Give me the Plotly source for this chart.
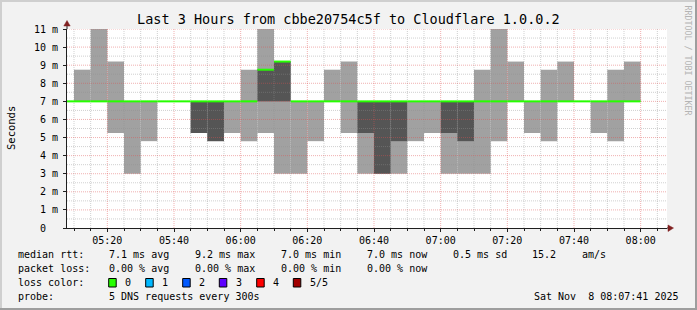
import plotly.graph_objects as go
import pandas as pd
import numpy as np

# ---------------- data ----------------
bucket_start = [
    "05:05", "05:10", "05:15", "05:20", "05:25", "05:30", "05:35", "05:40", "05:45", "05:50",
    "05:55", "06:00", "06:05", "06:10", "06:15", "06:20", "06:25", "06:30", "06:35", "06:40",
    "06:45", "06:50", "06:55", "07:00", "07:05", "07:10", "07:15", "07:20", "07:25", "07:30",
    "07:35", "07:40", "07:45", "07:50", "07:55",
]
# outer smoke band (ms)
smoke_outer_lo = [7.0, 7.0, 7.0, 5.25, 3.0, 4.8, 7.0, 7.0, 5.25, 4.8,
                  5.25, 4.8, 5.25, 3.0, 3.0, 4.8, 7.0, 5.25, 3.0, 3.0,
                  3.0, 4.8, 5.25, 3.0, 3.0, 3.0, 4.8, 7.0, 5.25, 4.8,
                  7.0, 7.0, 5.25, 4.8, 7.0]
smoke_outer_hi = [7.0, 8.75, 11.0, 9.2, 7.0, 7.0, 7.0, 7.0, 7.0, 7.0,
                  7.0, 8.75, 11.0, 9.2, 7.0, 7.0, 8.75, 9.2, 7.0, 7.0,
                  7.0, 7.0, 7.0, 7.0, 7.0, 8.75, 11.0, 9.2, 7.0, 8.75,
                  9.2, 7.0, 7.0, 8.75, 9.2]
# inner smoke band (ms)
smoke_inner_lo = [7.0, 7.0, 7.0, 7.0, 7.0, 7.0, 7.0, 7.0, 5.25, 4.8,
                  7.0, 7.0, 7.0, 7.0, 7.0, 7.0, 7.0, 7.0, 5.25, 3.0,
                  4.8, 7.0, 7.0, 5.25, 4.8, 7.0, 7.0, 7.0, 7.0, 7.0,
                  7.0, 7.0, 7.0, 7.0, 7.0]
smoke_inner_hi = [7.0, 7.0, 7.0, 7.0, 7.0, 7.0, 7.0, 7.0, 7.0, 7.0,
                  7.0, 7.0, 8.75, 9.2, 7.0, 7.0, 7.0, 7.0, 7.0, 7.0,
                  7.0, 7.0, 7.0, 7.0, 7.0, 7.0, 7.0, 7.0, 7.0, 7.0,
                  7.0, 7.0, 7.0, 7.0, 7.0]
median_rtt = [7.0, 7.0, 7.0, 7.0, 7.0, 7.0, 7.0, 7.0, 7.0, 7.0,
              7.0, 7.0, 8.75, 9.2, 7.0, 7.0, 7.0, 7.0, 7.0, 7.0,
              7.0, 7.0, 7.0, 7.0, 7.0, 7.0, 7.0, 7.0, 7.0, 7.0,
              7.0, 7.0, 7.0, 7.0, 7.0]

y_tick_vals = [0, 1, 2, 3, 4, 5, 6, 7, 8, 9, 10, 11]
y_tick_text = ["0\u00a0\u00a0", "1 m", "2 m", "3 m", "4 m", "5 m", "6 m", "7 m", "8 m", "9 m", "10 m", "11 m"]

loss_labels = ["0", "1", "2", "3", "4", "5/5"]
loss_colors = ["#26ff00", "#00b8ff", "#0059ff", "#5e00ff", "#ff0000", "#a10000"]

title_text = "Last 3 Hours from cbbe20754c5f to Cloudflare 1.0.0.2"
stat_rtt = ["median rtt:", "7.1 ms avg", "9.2 ms max", "7.0 ms min", "7.0 ms now", "0.5 ms sd", "15.2", "am/s"]
stat_loss = ["packet loss:", "0.00 % avg", "0.00 % max", "0.00 % min", "0.00 % now"]
probe_text = ["probe:", "5 DNS requests every 300s"]
stamp_text = "Sat Nov\u00a0\u00a08 08:07:41 2025"

DAY = "2025-11-08 "
x_start = pd.Timestamp(DAY + "05:07:54")
x_end = pd.Timestamp(DAY + "08:07:54")

# ---------------- layout geometry ----------------
W, H = 697, 310
L, R, T, B = 67, 30, 29, 82
PW, PH = W - L - R, H - T - B
FONT = "DejaVu Sans Mono"


def px2x(px):
    return (px - L) / PW


def py2y(py):
    return ((H - B) - py) / PH


starts = [pd.Timestamp(DAY + s) for s in bucket_start]
BW = 300000  # 5 min in ms

fig = go.Figure()

fig.add_trace(go.Bar(
    x=starts, base=smoke_outer_lo,
    y=[h - l for h, l in zip(smoke_outer_hi, smoke_outer_lo)],
    width=[BW] * len(starts), offset=0,
    marker=dict(color="#a1a1a1", line=dict(width=0)),
    hoverinfo="skip", showlegend=False,
))
fig.add_trace(go.Bar(
    x=starts, base=smoke_inner_lo,
    y=[h - l for h, l in zip(smoke_inner_hi, smoke_inner_lo)],
    width=[BW] * len(starts), offset=0,
    marker=dict(color="#555555", line=dict(width=0)),
    hoverinfo="skip", showlegend=False,
))

# ---------------- grid (drawn over smoke, like rrdtool) ----------------
grid_times = pd.date_range(DAY + "05:10", DAY + "08:05", freq="5min")
minor_vx, minor_vy, major_vx, major_vy = [], [], [], []
for t in grid_times:
    if t.minute % 20 == 0:
        major_vx += [t, t, None]
        major_vy += [0, 11, None]
    else:
        minor_vx += [t, t, None]
        minor_vy += [0, 11, None]
minor_hx, minor_hy, major_hx, major_hy = [], [], [], []
for v in np.arange(0.5, 11.01, 0.5):
    if abs(v - round(v)) < 1e-9:
        major_hx += [x_start, x_end, None]
        major_hy += [v, v, None]
    else:
        minor_hx += [x_start, x_end, None]
        minor_hy += [v, v, None]

GRID = "rgba(143,143,143,0.42)"
MGRID = "rgba(222,79,79,0.45)"
for gx, gy, col in [(minor_vx, minor_vy, GRID), (minor_hx, minor_hy, GRID),
                    (major_vx, major_vy, MGRID), (major_hx, major_hy, MGRID)]:
    fig.add_trace(go.Scatter(
        x=gx, y=gy, mode="lines",
        line=dict(color=col, width=1, dash="1px,1px"),
        hoverinfo="skip", showlegend=False, connectgaps=False,
    ))

# ---------------- median line ----------------
mx, my = [], []
for s, m in zip(starts, median_rtt):
    mx += [s, s + pd.Timedelta(minutes=5), None]
    my += [m, m, None]
fig.add_trace(go.Scatter(
    x=mx, y=my, mode="lines",
    line=dict(color=loss_colors[0], width=2),
    hoverinfo="skip", showlegend=False, connectgaps=False,
))

# ---------------- annotations ----------------
ann = []
ann.append(dict(text=title_text, x=px2x(348), y=py2y(19), xref="paper", yref="paper",
                xanchor="center", yanchor="middle", showarrow=False,
                font=dict(family=FONT, size=13.5, color="#000000")))
ann.append(dict(text="Seconds", x=px2x(11), y=py2y(128), xref="paper", yref="paper",
                xanchor="center", yanchor="middle", showarrow=False, textangle=-90,
                font=dict(family=FONT, size=10.5, color="#000000")))
ann.append(dict(text="RRDTOOL / TOBI OETIKER", x=px2x(687.5), y=py2y(60), xref="paper", yref="paper",
                xanchor="center", yanchor="middle", showarrow=False, textangle=90,
                font=dict(family=FONT, size=8.3, color="#b4b4b4")))


def txt(s, px, py, anchor="left"):
    ann.append(dict(text=s, x=px2x(px), y=py2y(py), xref="paper", yref="paper",
                    xanchor=anchor, yanchor="middle", showarrow=False,
                    font=dict(family=FONT, size=10, color="#000000")))


row1_x = [16, 107.3, 193, 279, 364.6, 451, 530, 580]
for s, px in zip(stat_rtt, row1_x):
    txt(s, px, 254.7)
for s, px in zip(stat_loss, row1_x):
    txt(s, px, 268.3)
txt("loss color:", 16, 282.7)
box_x = [108.7, 145.7, 182.7, 219.3, 256.7, 293.3]
lab_x = [123.3, 160, 197, 234, 271, 308]
shapes = []
for lab, col, bx, lx in zip(loss_labels, loss_colors, box_x, lab_x):
    shapes.append(dict(type="rect", xref="paper", yref="paper",
                       x0=px2x(bx), x1=px2x(bx + 7.5), y0=py2y(287), y1=py2y(278.5),
                       fillcolor=col, line=dict(color="#000000", width=1)))
    txt(lab, lx, 282.7)
txt(probe_text[0], 16, 296)
txt(probe_text[1], 107.3, 296)
txt(stamp_text, 680.5, 296, anchor="right")

# ---------------- frame / arrows ----------------
AX = "#1f1f1f"
ARROW = "#802020"
shapes.append(dict(type="line", xref="paper", yref="paper",
                   x0=px2x(667), x1=px2x(670), y0=0, y1=0, line=dict(color=AX, width=1)))
shapes.append(dict(type="line", xref="paper", yref="paper",
                   x0=0, x1=0, y0=1, y1=py2y(24), line=dict(color=AX, width=1)))
shapes.append(dict(type="path", xref="paper", yref="paper",
                   path="M {a},{b} L {c},{d} L {c},{e} Z".format(
                       a=px2x(673.5), b=0, c=px2x(668), d=py2y(225), e=py2y(231.5)),
                   fillcolor=ARROW, line=dict(color=ARROW, width=0.5)))
shapes.append(dict(type="path", xref="paper", yref="paper",
                   path="M {a},{b} L {c},{d} L {e},{d} Z".format(
                       a=px2x(67), b=py2y(20.5), c=px2x(63.8), d=py2y(26), e=px2x(70.2)),
                   fillcolor=ARROW, line=dict(color=ARROW, width=0.5)))
shapes.append(dict(type="rect", xref="paper", yref="paper", layer="below",
                   x0=px2x(0), x1=px2x(W), y0=py2y(0), y1=py2y(2),
                   fillcolor="#cfcfcf", line=dict(width=0)))
shapes.append(dict(type="rect", xref="paper", yref="paper", layer="below",
                   x0=px2x(0), x1=px2x(2), y0=py2y(0), y1=py2y(H),
                   fillcolor="#cfcfcf", line=dict(width=0)))
shapes.append(dict(type="rect", xref="paper", yref="paper", layer="below",
                   x0=px2x(0), x1=px2x(W), y0=py2y(H - 2), y1=py2y(H),
                   fillcolor="#9e9e9e", line=dict(width=0)))
shapes.append(dict(type="rect", xref="paper", yref="paper", layer="below",
                   x0=px2x(W - 2), x1=px2x(W), y0=py2y(0), y1=py2y(H),
                   fillcolor="#9e9e9e", line=dict(width=0)))

fig.update_layout(
    width=W, height=H,
    margin=dict(l=L, r=R, t=T, b=B, pad=0),
    paper_bgcolor="#f2f2f2", plot_bgcolor="#ffffff",
    showlegend=False, barmode="overlay",
    annotations=ann, shapes=shapes,
    xaxis=dict(
        type="date", range=[x_start, x_end],
        tickformat="%H:%M", dtick=1200000, tick0=DAY + "05:20:00",
        ticks="outside", ticklen=3, tickcolor=AX, tickwidth=1,
        showgrid=False, zeroline=False,
        showline=True, linecolor=AX, linewidth=1,
        tickfont=dict(family=FONT, size=10, color="#000000"),
        minor=dict(dtick=300000, tick0=DAY + "05:20:00", ticks="outside", ticklen=2,
                   tickcolor=AX, showgrid=False),
        fixedrange=True,
    ),
    yaxis=dict(
        range=[0, 11], tickvals=y_tick_vals, ticktext=y_tick_text,
        ticks="outside", ticklen=3, tickcolor=AX, tickwidth=1,
        showgrid=False, zeroline=False,
        showline=True, linecolor=AX, linewidth=1,
        tickfont=dict(family=FONT, size=10, color="#000000"),
        ticklabelstandoff=3,
        fixedrange=True,
    ),
)

fig.write_html("out.html", config={"displayModeBar": False, "staticPlot": True})
